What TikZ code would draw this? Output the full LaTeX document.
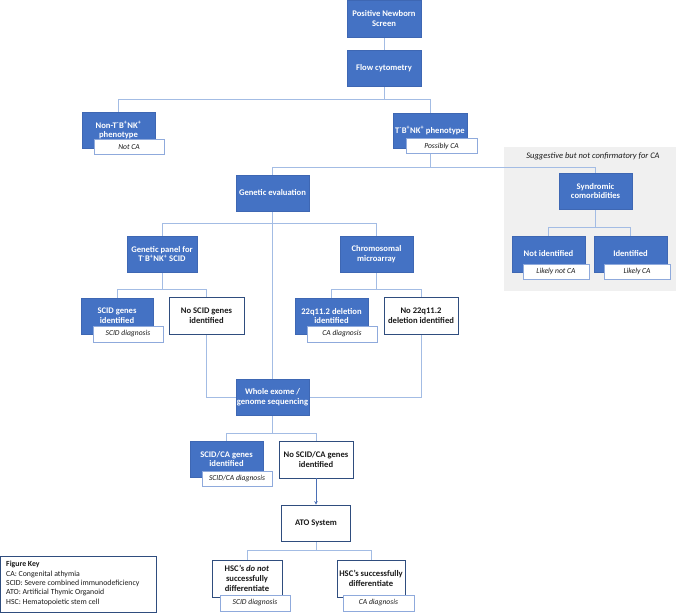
\documentclass[tikz,border=0pt]{standalone}
\usepackage{fontspec}
\setmainfont{Carlito}
\usetikzlibrary{arrows.meta}
\definecolor{boxF}{HTML}{4472C4}
\definecolor{boxD}{HTML}{3E67B3}
\definecolor{wD}{HTML}{2F4D7E}
\definecolor{subD}{HTML}{8FAADC}
\definecolor{lineC}{HTML}{A3BCE4}
\definecolor{arrC}{HTML}{4A6FB5}
\definecolor{grayA}{HTML}{F0F0F0}
\definecolor{txtD}{HTML}{1A1A1A}
\pgfdeclarelayer{bg}
\pgfdeclarelayer{lines}
\pgfsetlayers{bg,lines,main}
\newcommand{\tbn}{T\textsuperscript{-}B\textsuperscript{+}NK\textsuperscript{+}}
\tikzset{
  sz/.style 2 args={minimum width=#1pt, minimum height=#2pt},
  fb/.style={draw=boxD, fill=boxF, text=white, font=\bfseries\fontsize{8.6}{9.8}\selectfont, align=center, inner sep=0pt, line width=0.5pt},
  wb/.style={draw=wD, fill=white, text=txtD, font=\bfseries\fontsize{8.6}{9.8}\selectfont, align=center, inner sep=0pt, line width=0.9pt},
  sb/.style={draw=subD, fill=white, text=txtD, font=\itshape\fontsize{7.6}{8.5}\selectfont, inner sep=0pt, line width=0.8pt},
  conn/.style={draw=lineC, line width=0.9pt},
  arr/.style={draw=arrC, line width=0.8pt, -{Stealth[length=3.5pt,width=3.5pt]}},
}
\begin{document}
\begin{tikzpicture}[x=1pt,y=-1pt]
\useasboundingbox (0,0) rectangle (676,613);
\begin{pgfonlayer}{bg}
\fill[grayA] (504,147) rectangle (676,291);
\end{pgfonlayer}
\node[font=\itshape\fontsize{8.5}{9.5}\selectfont, text=txtD, inner sep=0pt] (sugg) at (593,156) {Suggestive but not confirmatory for CA};

% top
\node[fb, sz={74}{37}] (pns) at (384,18.5) {Positive Newborn\\Screen};
\node[fb, sz={74}{36}] (flow) at (384,68) {Flow cytometry};
\node[fb, sz={73}{36}] (nont) at (118.5,130) {Non-\tbn\\phenotype};
\node[sb, sz={70}{15}] (notca) at (129,147) {Not CA};
\node[fb, sz={74}{35}] (tbnk) at (430,130.5) {\tbn{} phenotype};
\node[sb, sz={71}{15}] (possca) at (441.5,146) {Possibly CA};

% second level
\node[fb, sz={73}{36}] (geneval) at (272.5,193) {Genetic evaluation};
\node[fb, sz={73}{36}] (synd) at (595.5,191) {Syndromic\\comorbidities};
\node[fb, sz={73}{36}] (notid) at (548.5,254) {Not identified};
\node[sb, sz={66}{15}] (likelynot) at (556,271.5) {Likely not CA};
\node[fb, sz={73}{36}] (idd) at (630.5,254) {Identified};
\node[sb, sz={66}{15}] (likelyca) at (637,271.5) {Likely CA};

% genetics
\node[fb, sz={70}{36}] (gpanel) at (162,254) {Genetic panel for\\\tbn{} SCID};
\node[fb, sz={73}{36}] (chrom) at (376.5,254) {Chromosomal\\microarray};
\node[fb, sz={72}{36}] (scidg) at (117,316) {SCID genes\\identified};
\node[sb, sz={70}{16}] (sciddx) at (128,334) {SCID diagnosis};
\node[wb, sz={75}{37}] (noscid) at (206.5,315.5) {No SCID genes\\identified};
\node[fb, sz={73}{36}] (del22) at (331.5,316) {22q11.2 deletion\\identified};
\node[sb, sz={70}{16}] (cadx) at (342,334) {CA diagnosis};
\node[wb, sz={74}{37}] (no22) at (421,315.5) {No 22q11.2\\deletion identified};

% sequencing
\node[fb, sz={73}{36}] (wes) at (272.5,397) {Whole exome /\\genome sequencing};
\node[fb, sz={73}{36}] (scidcag) at (226.5,459) {SCID/CA genes\\identified};
\node[sb, sz={70}{15}] (scidcadx) at (237,478.5) {SCID/CA diagnosis};
\node[wb, sz={74}{37}] (noscidca) at (316,459.5) {No SCID/CA genes\\identified};

% ATO
\node[wb, sz={69}{36}] (ato) at (316,523) {ATO System};
\node[wb, sz={70}{37}] (hscno) at (247,578.5) {HSC’s \textit{do not}\\successfully\\differentiate};
\node[sb, sz={70}{16}] (sciddx2) at (255,603) {SCID diagnosis};
\node[wb, sz={68}{37}] (hscyes) at (371,578.5) {HSC’s successfully\\differentiate};
\node[sb, sz={71}{16}] (cadx2) at (378.5,603) {CA diagnosis};

% key
\node[draw=wD, line width=0.8pt, fill=white, sz={156}{56}, inner sep=0pt] (key) at (78.5,584.5) {};
\node[anchor=north west, align=left, inner sep=0pt, text=txtD, font=\fontsize{7.8}{9.4}\selectfont] (keytxt) at (6,561)
  {\textbf{Figure Key}\\CA: Congenital athymia\\SCID: Severe combined immunodeficiency\\ATO: Artificial Thymic Organoid\\HSC: Hematopoietic stem cell};

\begin{pgfonlayer}{lines}
\draw[conn] (pns) -- (flow);
\draw[conn] (flow.south) -- ++(0,13) -| (nont.north);
\draw[conn] (flow.south) -- ++(0,13) -| (tbnk.north);
\draw[conn] (tbnk.south) -- ++(0,19) -| (geneval.north);
\draw[conn] (tbnk.south) -- ++(0,19) -| (synd.north);
\draw[conn] (synd.south) -- ++(0,18) -| (notid.north);
\draw[conn] (synd.south) -- ++(0,18) -| (idd.north);
\draw[conn] (geneval.south) -- (wes.north);
\draw[conn] (geneval.south) -- ++(0,12) -| (gpanel.north);
\draw[conn] (geneval.south) -- ++(0,12) -| (chrom.north);
\draw[conn] (gpanel.south) -- ++(0,17) -| (scidg.north);
\draw[conn] (gpanel.south) -- ++(0,17) -| (noscid.north);
\draw[conn] (chrom.south) -- ++(0,17) -| (del22.north);
\draw[conn] (chrom.south) -- ++(0,17) -| (no22.north);
\draw[conn] (noscid.south) |- (wes.west);
\draw[conn] (no22.south) |- (wes.east);
\draw[conn] (wes.south) -- ++(0,18) -| (scidcag.north);
\draw[conn] (wes.south) -- ++(0,18) -| (noscidca.north);
\draw[conn] (ato.south) -- ++(0,9) -| (hscno.north);
\draw[conn] (ato.south) -- ++(0,9) -| (hscyes.north);
\end{pgfonlayer}
\draw[arr] (noscidca.south) -- (ato.north);
\end{tikzpicture}
\end{document}
